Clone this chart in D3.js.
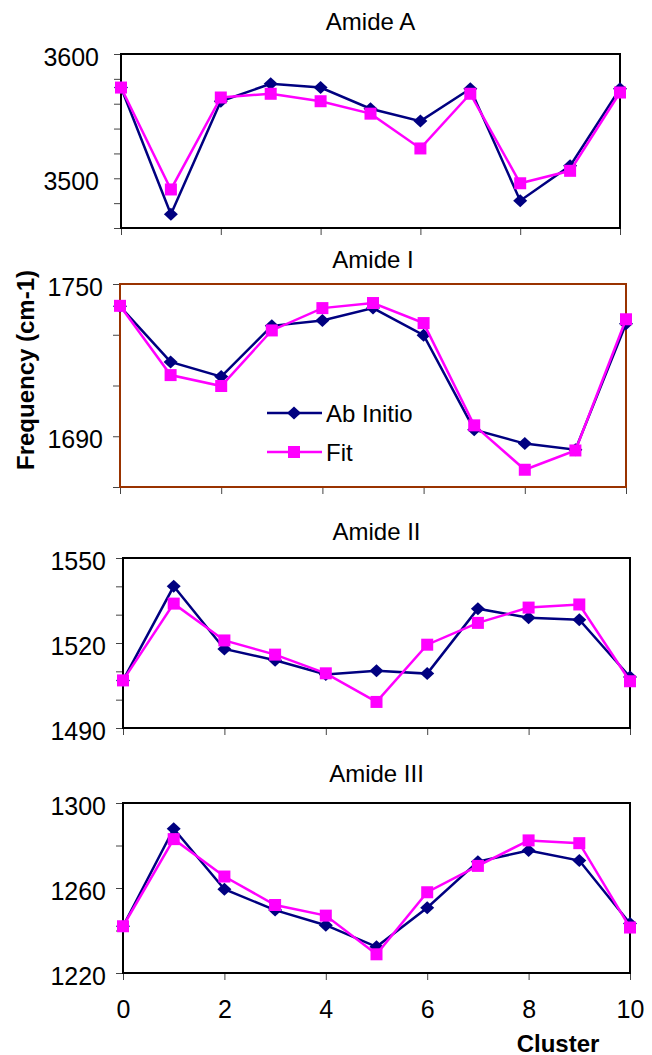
<!DOCTYPE html>
<html>
<head>
<meta charset="utf-8">
<script src="https://cdn.jsdelivr.net/npm/d3@7"></script>
<style>
  body { margin: 0; background: #fff; }
  svg { display: block; }
  text { font-family: "Liberation Sans", Arial, Helvetica, sans-serif; fill: #000; }
</style>
</head>
<body>
<svg id="chart" width="652" height="1055"></svg>
<script>
// cluster index on the x axis
var clusters = [0, 1, 2, 3, 4, 5, 6, 7, 8, 9, 10];
var xTicks = [0, 2, 4, 6, 8, 10];

// Amide A
var amideA_abInitio = [3573, 3471, 3562, 3576, 3573, 3556, 3546, 3572, 3482, 3510, 3572];
var amideA_fit      = [3573, 3491, 3565, 3568, 3562, 3552, 3524, 3568, 3496, 3506, 3569];
var amideA_ticks  = [3460, 3480, 3500, 3520, 3540, 3560, 3580, 3600];
var amideA_labels = [3500, 3600];

// Amide I
var amide1_abInitio = [1741.2, 1719.3, 1713.5, 1733.5, 1735.6, 1740.5, 1729.8, 1692.6, 1687.1, 1684.7, 1734.3];
var amide1_fit      = [1741.4, 1714.1, 1709.8, 1731.7, 1740.5, 1742.5, 1734.6, 1694.3, 1676.8, 1684.4, 1736.1];
var amide1_ticks  = [1670, 1690, 1710, 1730, 1750];
var amide1_labels = [1690, 1750];

// Amide II
var amide2_abInitio = [1506.8, 1540, 1517.9, 1513.9, 1508.9, 1510.2, 1509.2, 1532.1, 1528.9, 1528.2, 1508];
var amide2_fit      = [1506.8, 1533.9, 1520.9, 1515.9, 1509.3, 1499.2, 1519.4, 1527.1, 1532.5, 1533.6, 1506.5];
var amide2_ticks  = [1490, 1500, 1510, 1520, 1530, 1540, 1550];
var amide2_labels = [1490, 1520, 1550];

// Amide III
var amide3_abInitio = [1242, 1287.9, 1259.4, 1249.6, 1242.5, 1232.3, 1250.7, 1272.4, 1277.6, 1272.9, 1243.3];
var amide3_fit      = [1242, 1283, 1265.4, 1252, 1247, 1228.8, 1258, 1270.4, 1282.4, 1281.1, 1241.4];
var amide3_ticks  = [1220, 1240, 1260, 1280, 1300];
var amide3_labels = [1220, 1260, 1300];

var seriesNames = ["Ab Initio", "Fit"];
var seriesColors = ["#000080", "#ff00ff"];

// panel layout (pixels)
var panels = [
  {title: "Amide A",   a: amideA_abInitio, f: amideA_fit, ticks: amideA_ticks, labels: amideA_labels,
   x0: 121, x1: 620, y0: 54,  y1: 228, border: "#000", gap: 22, titleY: 21},
  {title: "Amide I",   a: amide1_abInitio, f: amide1_fit, ticks: amide1_ticks, labels: amide1_labels,
   x0: 120, x1: 626, y0: 284, y1: 487, border: "#993300", gap: 17, titleY: 259, legend: true},
  {title: "Amide II",  a: amide2_abInitio, f: amide2_fit, ticks: amide2_ticks, labels: amide2_labels,
   x0: 123, x1: 630, y0: 558, y1: 728, border: "#000", gap: 17, titleY: 531},
  {title: "Amide III", a: amide3_abInitio, f: amide3_fit, ticks: amide3_ticks, labels: amide3_labels,
   x0: 123, x1: 630, y0: 803, y1: 973, border: "#000", gap: 17, titleY: 773, xLabels: true}
];

var svg = d3.select("#chart");

function marker(sel, kind, color) {
  if (kind === 0) {
    sel.append("path").attr("d", "M0,-6.5L7,0L0,6.5L-7,0Z").attr("fill", color);
  } else {
    sel.append("rect").attr("x", -6).attr("y", -6).attr("width", 12).attr("height", 12).attr("fill", color);
  }
}

panels.forEach(function(p) {
  var x = d3.scaleLinear().domain([0, 10]).range([p.x0, p.x1]);
  var y = d3.scaleLinear().domain([p.ticks[0], p.ticks[p.ticks.length - 1]]).range([p.y1, p.y0]);

  var g = svg.append("g");

  g.append("text")
    .attr("x", (p.x0 + p.x1) / 2).attr("y", p.titleY)
    .attr("text-anchor", "middle").attr("dominant-baseline", "central")
    .style("font-size", "24px").text(p.title);

  // y axis ticks + labels
  var ya = g.append("g").attr("transform", "translate(" + p.x0 + ",0)")
    .call(d3.axisLeft(y).tickValues(p.ticks).tickSize(7)
      .tickFormat(function(d) { return p.labels.indexOf(d) >= 0 ? d : ""; }));
  ya.attr("font-family", null).attr("font-size", null);
  ya.select(".domain").remove();
  ya.selectAll("line").attr("stroke", "#444");
  ya.selectAll("text").attr("x", -p.gap).attr("dy", "0.45em")
    .style("font-size", "25px");

  // x axis ticks
  var xa = g.append("g").attr("transform", "translate(0," + p.y1 + ")")
    .call(d3.axisBottom(x).tickValues(xTicks).tickSize(7)
      .tickFormat(function(d) { return p.xLabels ? d : ""; }));
  xa.attr("font-family", null).attr("font-size", null);
  xa.select(".domain").remove();
  xa.selectAll("line").attr("stroke", "#444");
  xa.selectAll("text").attr("y", 27).attr("dy", "0.7em")
    .style("font-size", "25px");

  // plot box
  g.append("rect")
    .attr("x", p.x0).attr("y", p.y0)
    .attr("width", p.x1 - p.x0).attr("height", p.y1 - p.y0)
    .attr("fill", "none").attr("stroke", p.border).attr("stroke-width", 2);

  var line = d3.line().x(function(d, i) { return x(clusters[i]); }).y(function(d) { return y(d); });

  [p.a, p.f].forEach(function(vals, k) {
    g.append("path").datum(vals)
      .attr("d", line).attr("fill", "none")
      .attr("stroke", seriesColors[k]).attr("stroke-width", 2.5);
    g.selectAll(null).data(vals).enter().append("g")
      .attr("transform", function(d, i) { return "translate(" + x(clusters[i]) + "," + y(d) + ")"; })
      .each(function() { marker(d3.select(this), k, seriesColors[k]); });
  });

  if (p.legend) {
    var lg = g.append("g");
    var legendY = [413, 452];
    seriesNames.forEach(function(name, k) {
      var row = lg.append("g").attr("transform", "translate(267," + legendY[k] + ")");
      row.append("line").attr("x1", 0).attr("x2", 55).attr("y1", 0).attr("y2", 0)
        .attr("stroke", seriesColors[k]).attr("stroke-width", 2.5);
      marker(row.append("g").attr("transform", "translate(27,0)"), k, seriesColors[k]);
      row.append("text").attr("x", 59).attr("y", 0).attr("dominant-baseline", "central")
        .style("font-size", "24px").text(name);
    });
  }
});

// axis titles
svg.append("text")
  .attr("transform", "translate(25,370) rotate(-90)")
  .attr("text-anchor", "middle").attr("dominant-baseline", "central")
  .style("font-size", "24px").style("font-weight", "bold")
  .text("Frequency (cm-1)");

svg.append("text")
  .attr("x", 558).attr("y", 1043)
  .attr("text-anchor", "middle").attr("dominant-baseline", "central")
  .style("font-size", "24px").style("font-weight", "bold")
  .text("Cluster");
</script>
</body>
</html>
